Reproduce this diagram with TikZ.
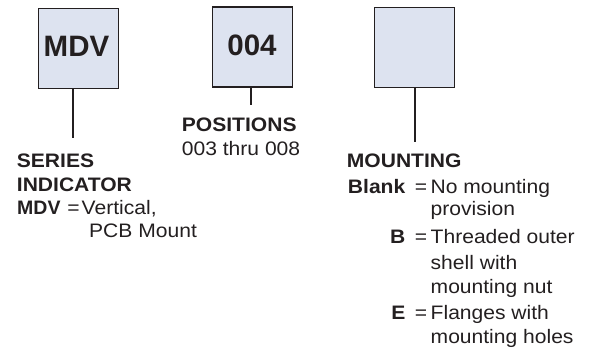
\documentclass[tikz,border=0pt]{standalone}
\usepackage{fontspec}
\setmainfont{Liberation Sans}
\newfontfamily\capfont[FakeStretch=1.08]{Liberation Sans}
\definecolor{boxfill}{HTML}{DDE3F0}
\definecolor{ink}{HTML}{231F20}
\begin{document}
\begin{tikzpicture}[x=1pt,y=-1pt,
  codebox/.style={draw=ink, line width=1.1pt, fill=boxfill, minimum width=80pt, minimum height=80pt, inner sep=0pt},
  lead/.style={draw=ink, line width=2pt},
  txt/.style={inner sep=0pt, text=ink, font=\capfont\fontsize{19.5}{23}\selectfont},
  bigtxt/.style={inner sep=0pt, text=ink, font=\fontsize{29.5}{30}\selectfont\bfseries}]
\useasboundingbox (0,0) rectangle (593,348);
% code boxes
\node[codebox] (b1) at (78.3,48.3) {};
\node[codebox] (b2) at (252.2,47) {};
\node[codebox] (b3) at (414.3,47.3) {};
\node[bigtxt, anchor=base] (l1) at (76.5,56) {MDV};
\node[bigtxt, anchor=base] (l2) at (252,55) {004};
% leader lines
\coordinate (e1) at (72.7,138);
\coordinate (e2) at (250.7,105);
\coordinate (e3) at (415,141.7);
\draw[lead] (b1.south -| e1) -- (e1);
\draw[lead] (b2.south -| e2) -- (e2);
\draw[lead] (b3.south -| e3) -- (e3);
% series indicator
\node[txt, anchor=base west] (s1) at (16.7,167) {\bfseries SERIES};
\node[txt, anchor=base west] (s2) at (16.7,191) {\bfseries INDICATOR};
\node[txt, anchor=base west, font=\fontsize{19.5}{23}\selectfont\bfseries] (s3) at (17,214) {MDV};
\node[txt, anchor=base] (s4) at (73.5,214) {=};
\node[txt, anchor=base west] (s5) at (81.5,214) {Vertical,};
\node[txt, anchor=base west] (s6) at (89,237.5) {PCB Mount};
% positions
\node[txt, anchor=base west] (p1) at (181.7,131.7) {\bfseries POSITIONS};
\node[txt, anchor=base west] (p2) at (181.7,155.5) {003 thru 008};
% mounting
\node[txt, anchor=base west] (m0) at (346.7,167.3) {\bfseries MOUNTING};
\node[txt, anchor=base east] (m1) at (405.5,193) {\bfseries Blank};
\node[txt, anchor=base] (m1e) at (421,193) {=};
\node[txt, anchor=base west] (m1t) at (430.5,193) {No mounting};
\node[txt, anchor=base west] (m1u) at (430.5,215.5) {provision};
\node[txt, anchor=base east] (m2) at (405.5,243) {\bfseries B};
\node[txt, anchor=base] (m2e) at (421,243) {=};
\node[txt, anchor=base west] (m2t) at (430.5,243) {Threaded outer};
\node[txt, anchor=base west] (m2u) at (430.5,269.5) {shell with};
\node[txt, anchor=base west] (m2v) at (430.5,293.5) {mounting nut};
\node[txt, anchor=base east] (m3) at (405.5,319.5) {\bfseries E};
\node[txt, anchor=base] (m3e) at (421,319.5) {=};
\node[txt, anchor=base west] (m3t) at (430.5,319.5) {Flanges with};
\node[txt, anchor=base west] (m3u) at (430.5,343.5) {mounting holes};
\end{tikzpicture}
\end{document}
